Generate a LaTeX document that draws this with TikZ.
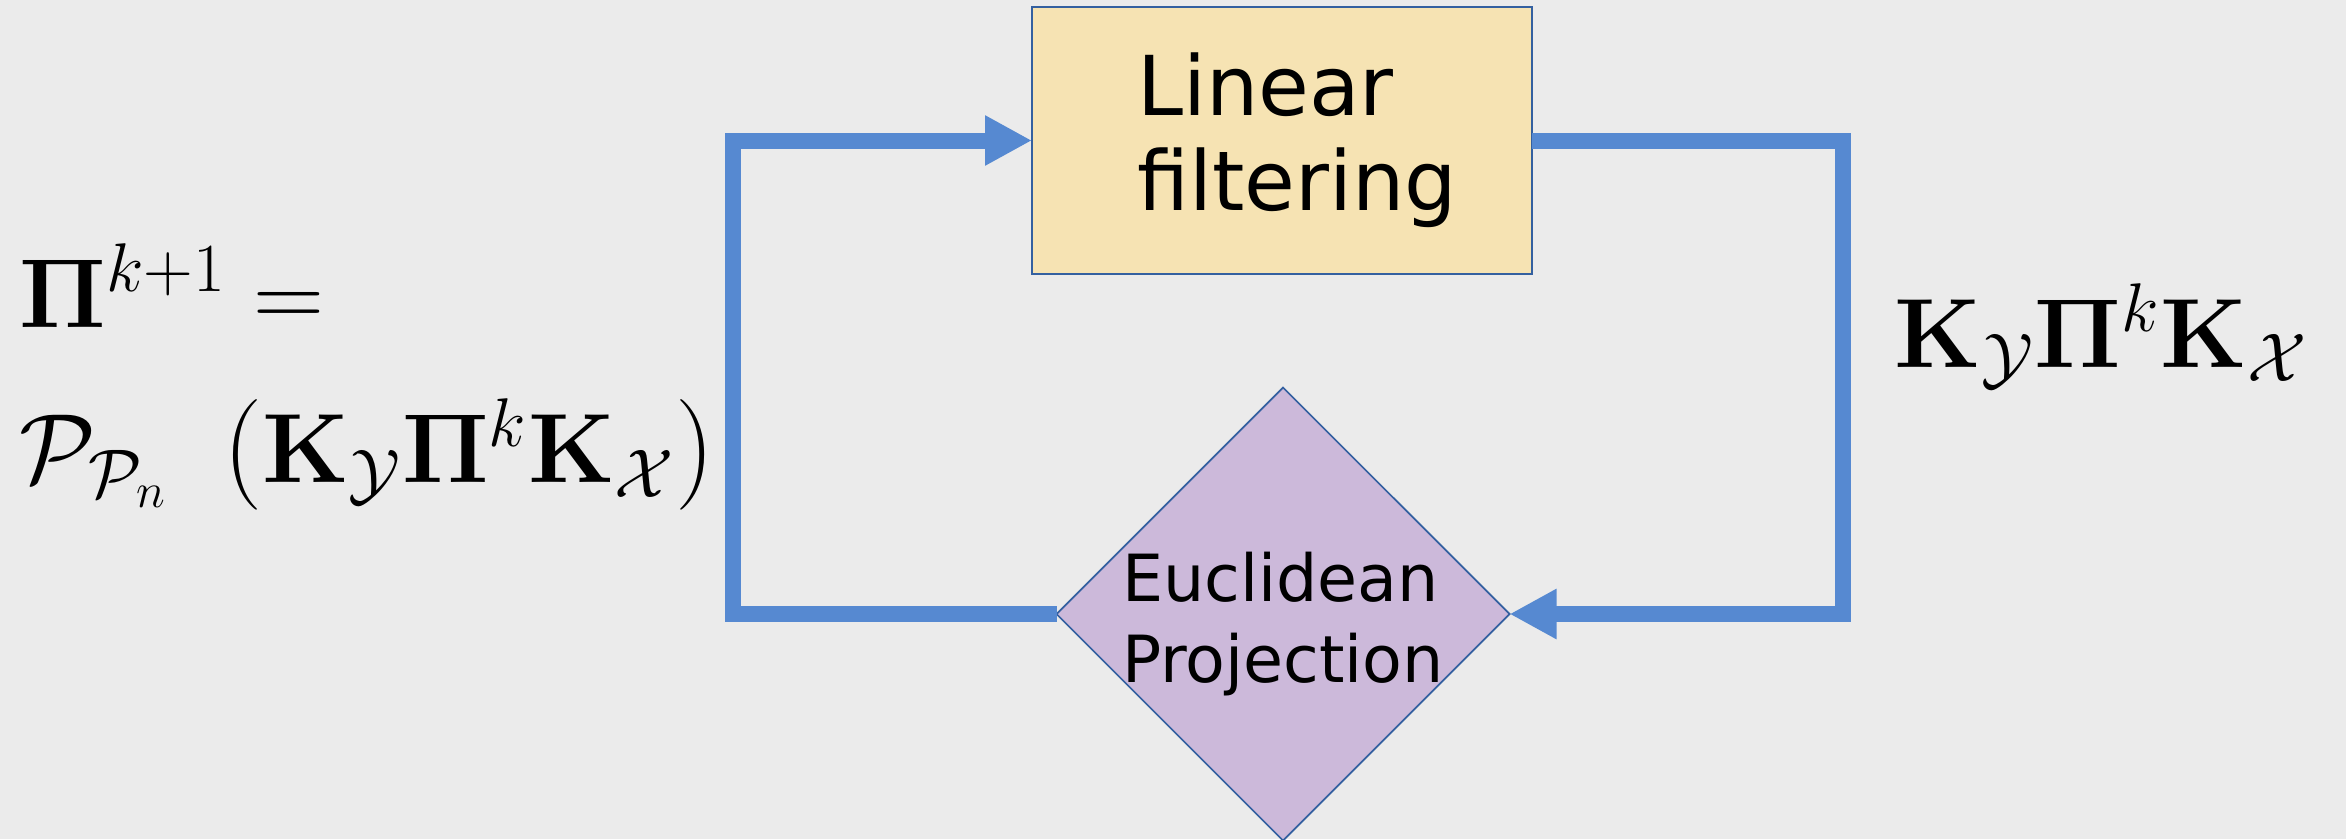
\RequirePackage{fix-cm}
\documentclass[tikz,border=0pt]{standalone}
\usepackage[no-math]{fontspec}
\newfontfamily\handfont{DejaVu Sans}
\usepackage{tikz}
\usetikzlibrary{shapes.geometric, arrows.meta, positioning, calc}
\usepackage{xcolor}
\definecolor{slideGray}{RGB}{235, 235, 235}
\definecolor{loopBlue}{RGB}{86, 137, 209}
\definecolor{edgeBlue}{RGB}{52, 96, 160}
\definecolor{filterYellow}{RGB}{246, 227, 179}
\definecolor{projLilac}{RGB}{204, 185, 218}
\newcommand{\bigparen}[1]{\mbox{\fontsize{31.5}{36}\selectfont$#1$}}

\begin{document}
\begin{tikzpicture}[
    filterbox/.style={rectangle, draw=edgeBlue, fill=filterYellow, line width=0.6pt, minimum width=5.0cm, minimum height=2.67cm, inner sep=0pt, outer sep=0pt, align=left, font=\handfont\fontsize{23.5}{27}\selectfont},
    projbox/.style={diamond, shape aspect=1, draw=edgeBlue, fill=projLilac, line width=0.5pt, minimum width=4.53cm, minimum height=4.53cm, inner sep=0pt, outer sep=0pt},
    projtext/.style={align=left, inner sep=0pt, font=\handfont\fontsize{18.5}{22.8}\selectfont},
    eqtext/.style={align=left, inner sep=0pt, font=\fontsize{28}{44}\selectfont},
    flow/.style={-{Triangle[length=0.47cm, width=0.47cm]}, line width=0.16cm, loopBlue}
]

% Slide background and fixed frame
\fill[slideGray] (0,0) rectangle (23.46,8.39);
\useasboundingbox (0,0) rectangle (23.46,8.39);

% Nodes
\node[filterbox] (filter) at (12.82, 6.985) {\hspace*{0.3cm}Linear\\\hspace*{0.3cm}filtering};
\node[projbox]   (proj)   at (12.83, 2.25) {};
\node[projtext, yshift=-0.1cm] (projlabel) at (proj) {Euclidean\\Projection};

% Equations beside the loop
\node[eqtext, anchor=west] (update) at (0.19, 4.62)
    {$\mathbf{\Pi}^{k+1} =$\\
     $\mathcal{P}_{\mathcal{P}_n}\;\;\mathopen{\bigparen{(}}\mathbf{K}_{\mathcal{Y}}\mathbf{\Pi}^k\mathbf{K}_{\mathcal{X}}\mathclose{\bigparen{)}}$};
\node[eqtext, anchor=base west] (filtered) at (18.94, 4.72)
    {$\mathbf{K}_{\mathcal{Y}}\mathbf{\Pi}^k\mathbf{K}_{\mathcal{X}}$};

% Paths
\draw[flow] (filter.east) -- ++(3.11,0) |- (proj.east);
\draw[flow] (proj.west) -- ++(-3.24,0) |- (filter.west);

\end{tikzpicture}
\end{document}
